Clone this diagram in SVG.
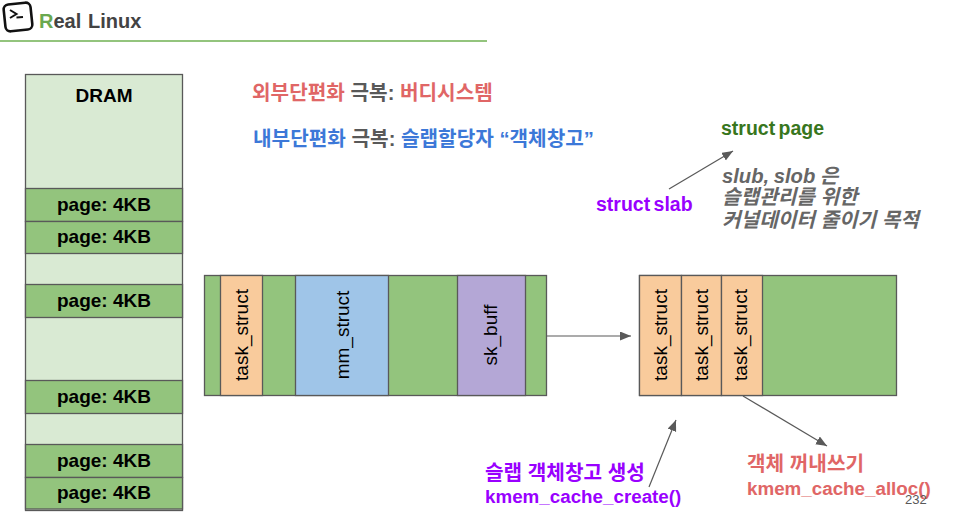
<svg xmlns="http://www.w3.org/2000/svg" width="958" height="520" viewBox="0 0 958 520">
<style>
text{font-family:"Liberation Sans","Noto Sans CJK KR",sans-serif}
.b{font-weight:700}
.cell{stroke:#595959;stroke-width:1.3}
.g{fill:#93c47d}.l{fill:#d9ead3}.o{fill:#f9cb9c}.bl{fill:#9fc5e8}.p{fill:#b4a7d6}
.pg{font-size:19px;font-weight:700;text-anchor:middle;fill:#000}
.v{font-size:19px;text-anchor:middle;fill:#000}
.k{font-size:20.200px;font-weight:700}
.e{font-size:18.800px;font-weight:700}
.s{font-size:19.500px;font-weight:700;word-spacing:-2px}
.conn{stroke:#595959;stroke-width:1.2;fill:none;marker-end:url(#a)}
</style>
<defs><marker id="a" markerUnits="userSpaceOnUse" markerWidth="12" markerHeight="10" refX="11" refY="4.500" orient="auto"><path d="M0 0L11 4.500L0 9Z" fill="#595959"/></marker></defs>
<g id="header">
<g transform="rotate(-6 18 17)"><rect x="4.500" y="3.500" width="27" height="27" rx="5" fill="#fff" stroke="#111" stroke-width="2.600"/></g>
<path d="M10 10L16.500 14L10 18" fill="none" stroke="#111" stroke-width="2"/><path d="M16.500 17.500L23 17" fill="none" stroke="#111" stroke-width="2"/>
<text x="39" y="28" class="b" font-size="20" fill="#434343"><tspan fill="#6aa84f">R</tspan>eal</text>
<text x="88" y="28" class="b" font-size="20" fill="#434343">Linux</text>
<rect x="0" y="40" width="487" height="2" fill="#93c47d"/>
</g>
<g id="dram">
<rect class="cell l" x="25.500" y="74.500" width="157" height="436"/>
<rect class="cell g" x="25.500" y="188.500" width="157" height="33"/>
<rect class="cell g" x="25.500" y="221.500" width="157" height="32"/>
<rect class="cell g" x="25.500" y="284.500" width="157" height="33"/>
<rect class="cell g" x="25.500" y="380.500" width="157" height="33"/>
<rect class="cell g" x="25.500" y="444.500" width="157" height="33"/>
<rect class="cell g" x="25.500" y="477.500" width="157" height="31.500"/>
<text x="104" y="102" class="pg">DRAM</text>
<text x="104" y="211" class="pg">page: 4KB</text>
<text x="104" y="243" class="pg">page: 4KB</text>
<text x="104" y="307" class="pg">page: 4KB</text>
<text x="104" y="403" class="pg">page: 4KB</text>
<text x="104" y="467" class="pg">page: 4KB</text>
<text x="104" y="499" class="pg">page: 4KB</text>
</g>
<g id="slab-mixed">
<rect class="cell g" x="204.500" y="275.500" width="342" height="120"/>
<rect class="cell o" x="220.500" y="275.500" width="42" height="120"/>
<rect class="cell bl" x="295.500" y="275.500" width="93" height="120"/>
<rect class="cell p" x="457.500" y="275.500" width="68" height="120"/>
<text class="v" transform="translate(248 335) rotate(-90)">task_struct</text>
<text class="v" transform="translate(349 335) rotate(-90)">mm_struct</text>
<text class="v" transform="translate(497 335) rotate(-90)">sk_buff</text>
</g>
<g id="slab-task">
<rect class="cell g" x="639.500" y="275.500" width="257" height="120"/>
<rect class="cell o" x="639.500" y="275.500" width="42" height="120"/>
<rect class="cell o" x="681.500" y="275.500" width="40" height="120"/>
<rect class="cell o" x="721.500" y="275.500" width="41" height="120"/>
<text class="v" transform="translate(667 335) rotate(-90)">task_struct</text>
<text class="v" transform="translate(708 335) rotate(-90)">task_struct</text>
<text class="v" transform="translate(747 335) rotate(-90)">task_struct</text>
</g>
<g id="connectors">
<path class="conn" d="M547 336H631"/>
<path class="conn" d="M669 189L733 151"/>
<path class="conn" d="M649 487L676 420"/>
<path class="conn" d="M743 396L827 446"/>
</g>
<g id="labels">
<text x="252" y="100" class="k" fill="#e06666">외부단편화 <tspan fill="#595959">극복:</tspan> 버디시스템</text>
<text x="253" y="146" class="k" fill="#3c78d8">내부단편화 <tspan fill="#595959">극복:</tspan> 슬랩할당자 “객체창고”</text>
<text x="721" y="135" class="s" fill="#38761d">struct page</text>
<text x="596" y="211" class="s" fill="#9900ff">struct slab</text>
<g class="k" fill="#666" font-style="italic">
<text x="722" y="183" word-spacing="-1">slub, slob 은</text>
<text x="722" y="204">슬랩관리를 위한</text>
<text x="722" y="227">커널데이터 줄이기 목적</text>
</g>
<text x="485" y="480" class="k" fill="#9900ff">슬랩 객체창고 생성</text>
<text x="485" y="503" class="e" fill="#9900ff">kmem_cache_create()</text>
<text x="747" y="471" class="k" fill="#e06666">객체 꺼내쓰기</text>
<text x="747" y="495" class="e" fill="#e06666">kmem_cache_alloc()</text>
<text x="905" y="504" font-size="13" fill="#595959">232</text>
</g>
</svg>
